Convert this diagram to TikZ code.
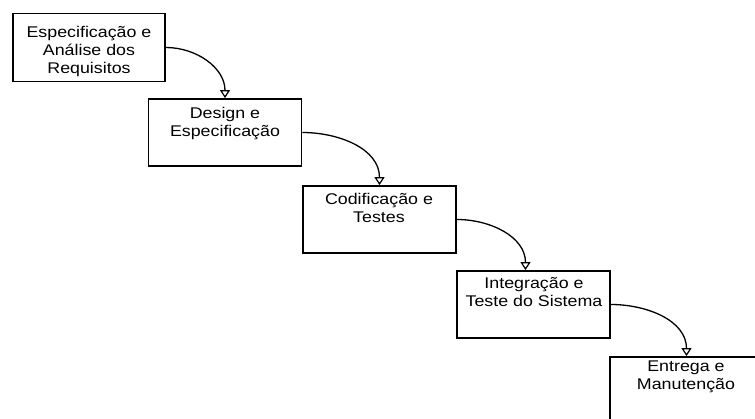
\documentclass[tikz,border=0pt]{standalone}
\usepackage{fontspec}
\setmainfont{Liberation Sans}[FakeStretch=1.15]
\usetikzlibrary{arrows.meta}
\begin{document}
\begin{tikzpicture}[x=1pt,y=-1pt,
  phase/.style={draw=black, line width=1.8pt, minimum width=153pt,
    minimum height=67pt, inner sep=0pt},
  phasetext/.style={anchor=base, align=center, inner sep=0pt,
    font=\fontsize{15.5}{18}\selectfont},
  flow/.style={line width=1.3pt, out=0, in=90,
    -{Triangle[open,width=10pt,length=8pt,line width=1.2pt]}}]
  \useasboundingbox (0,0) rectangle (755,419);
  \clip (0,0) rectangle (755,419);

  % phase boxes, stepping down to the right
  \node[phase, minimum width=152pt, minimum height=68pt] (b1) at (89,47.5) {};
  \node[phase] (b2) at (225,132.5) {};
  \node[phase] (b3) at (379.5,219.5) {};
  \node[phase] (b4) at (533.5,304.5) {};
  \node[phase] (b5) at (686.5,390.5) {};

  % phase names (placed by the baseline of their last line)
  \node[phasetext] (t1) at (89,74) {Especificação e\\Análise dos\\Requisitos};
  \node[phasetext] (t2) at (225,137) {Design e\\Especificação};
  \node[phasetext] (t3) at (379,223) {Codificação e\\Testes};
  \node[phasetext] (t4) at (534,307) {Integração e\\Teste do Sistema};
  \node[phasetext] (t5) at (686,390) {Entrega e\\Manutenção};

  % flow from each phase to the next
  \draw[flow] (b1.east) to (b2.north);
  \draw[flow] (b2.east) to (b3.north);
  \draw[flow] (b3.east) to ([xshift=-8pt]b4.north);
  \draw[flow] (b4.east) to (b5.north);
\end{tikzpicture}
\end{document}
